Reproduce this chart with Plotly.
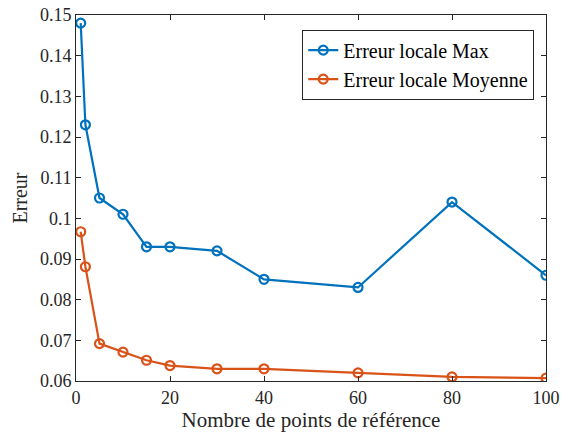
import plotly.graph_objects as go

x_points = [1, 2, 5, 10, 15, 20, 30, 40, 60, 80, 100]
err_max = [0.148, 0.123, 0.105, 0.101, 0.093, 0.093, 0.092, 0.085, 0.083, 0.104, 0.086]
err_mean = [0.0967, 0.0881, 0.0692, 0.0671, 0.0651, 0.0638, 0.063, 0.063, 0.062, 0.061, 0.0607]
names = ["Erreur locale Max", "Erreur locale Moyenne"]
colors = ["#0072BD", "#D95319"]

fig = go.Figure()
for ys, name, c in zip([err_max, err_mean], names, colors):
    fig.add_trace(go.Scatter(
        x=x_points, y=ys, name=name, mode="lines+markers",
        line=dict(color=c, width=2.2),
        marker=dict(symbol="circle-open", size=9, color=c, line=dict(width=2.2, color=c)),
    ))

font = "Liberation Serif"
axis_common = dict(
    showgrid=False, zeroline=False, showline=True, mirror="ticks",
    linecolor="#262626", linewidth=1, ticks="inside", ticklen=5,
    tickcolor="#262626", tickfont=dict(family=font, size=18, color="#262626"),
    automargin=False, ticklabeloverflow="allow",
)
fig.update_layout(
    width=563, height=436,
    margin=dict(l=76, r=17, t=15, b=55, autoexpand=False),
    paper_bgcolor="white", plot_bgcolor="white",
    xaxis=dict(range=[0, 100], tickvals=[0, 20, 40, 60, 80, 100],
               title=dict(text="Nombre de points de référence", font=dict(family=font, size=21, color="#262626"), standoff=5),
               **axis_common),
    yaxis=dict(range=[0.06, 0.15], tickvals=[0.06, 0.07, 0.08, 0.09, 0.1, 0.11, 0.12, 0.13, 0.14, 0.15],
               ticktext=["0.06", "0.07", "0.08", "0.09", "0.1", "0.11", "0.12", "0.13", "0.14", "0.15"],
               title=dict(text="Erreur", font=dict(family=font, size=20, color="#262626"), standoff=6),
               **axis_common),
    legend=dict(x=0.975, y=0.96, xanchor="right", yanchor="top",
                bgcolor="white", bordercolor="#262626", borderwidth=1,
                font=dict(family=font, size=20, color="#000000"),
                tracegroupgap=0, itemwidth=30),
    showlegend=True,
)
fig.write_html("out.html", config={"displayModeBar": False},
               post_script="document.body.style.margin='0';")
